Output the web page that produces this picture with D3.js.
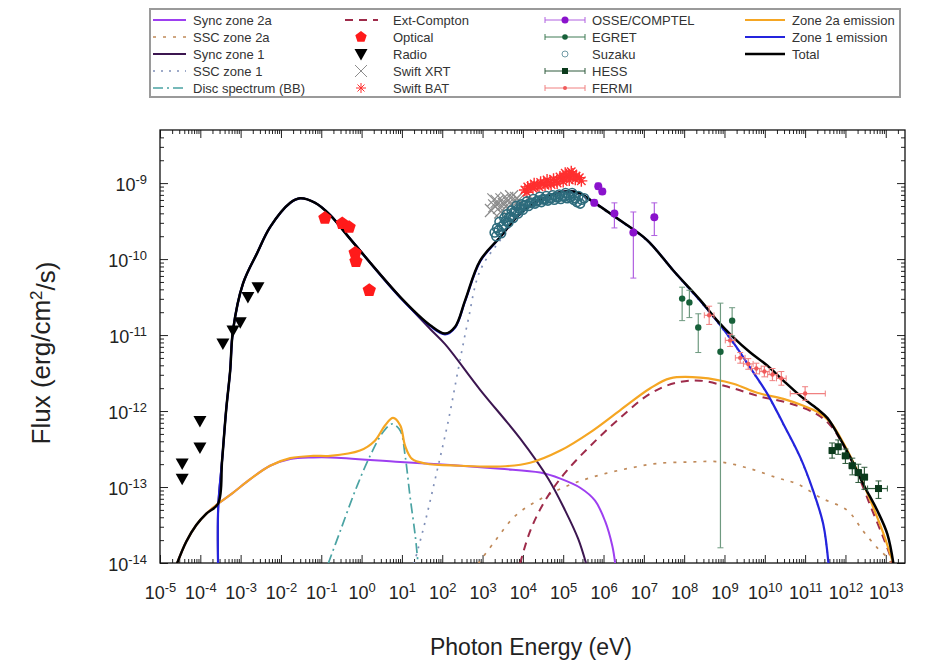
<!DOCTYPE html>
<html>
<head>
<meta charset="utf-8">
<script src="https://cdn.jsdelivr.net/npm/d3@7"></script>
<style>
  body { margin: 0; background: #fff; }
  text { font-family: "Liberation Sans", Arial, sans-serif; }
</style>
</head>
<body>
<svg id="chart" width="938" height="663"></svg>
<script>
// all values are log10(E / eV), log10(flux / erg cm^-2 s^-1)

const syncZone2a = [[-4.58,-14.01],[-4.35,-13.72],[-4.10,-13.50],[-3.85,-13.35],[-3.56,-13.22],[-3.20,-13.08],
  [-2.77,-12.90],[-2.27,-12.72],[-1.77,-12.63],[-1.20,-12.61],[-0.78,-12.61],[0.96,-12.67],[2.20,-12.71],
  [3.44,-12.76],[4.43,-12.81],[4.93,-12.89],[5.42,-13.01],[5.79,-13.18],[6.04,-13.45],[6.22,-13.78],[6.29,-14.01]];

const sscZone2a = [[2.89,-14.01],[3.31,-13.71],[3.81,-13.38],[4.43,-13.16],[5.17,-12.97],[5.92,-12.84],
  [6.66,-12.75],[7.33,-12.69],[8.15,-12.67],[8.90,-12.67],[9.64,-12.76],[10.31,-12.88],[10.81,-12.96],
  [11.38,-13.14],[12.05,-13.31],[12.44,-13.58],[12.79,-13.80],[13.04,-13.93],[13.14,-14.01]];

const syncZone1 = [[-3.56,-14.01],[-3.555,-13.25],[-3.46,-12.65],[-3.36,-11.99],[-3.26,-11.47],[-3.19,-10.94],
  [-2.94,-10.32],[-2.59,-9.92],[-2.27,-9.58],[-1.77,-9.26],[-1.53,-9.20],[-1.15,-9.26],[-0.78,-9.42],
  [-0.29,-9.73],[0.96,-10.50],[1.70,-10.92],[2.07,-11.12],[2.94,-11.72],[3.93,-12.36],[4.63,-12.89],
  [5.05,-13.31],[5.37,-13.68],[5.57,-14.01]];

const sscZone1 = [[1.30,-14.01],[1.58,-13.45],[1.87,-12.79],[2.15,-12.13],[2.39,-11.47],[2.64,-10.81],
  [2.94,-10.15],[3.44,-9.75],[3.93,-9.42],[4.43,-9.25],[4.93,-9.15],[5.35,-9.15],[5.67,-9.24],[6.41,-9.50],
  [7.08,-9.76],[7.73,-10.16],[8.40,-10.56],[8.82,-10.83],[9.22,-11.11],[9.64,-11.44],[10.06,-11.78],
  [10.46,-12.18],[10.88,-12.62],[11.20,-13.06],[11.45,-13.50],[11.58,-14.01]];

const discBB = [[-0.83,-14.01],[-0.53,-13.58],[-0.16,-13.05],[0.21,-12.59],[0.53,-12.28],[0.76,-12.17],
  [0.96,-12.26],[1.08,-12.59],[1.20,-13.12],[1.33,-13.64],[1.40,-14.01]];

const extCompton = [[3.93,-14.01],[4.18,-13.58],[4.55,-13.18],[5.05,-12.81],[5.67,-12.46],[6.41,-12.09],
  [7.16,-11.77],[7.78,-11.63],[8.40,-11.60],[9.14,-11.69],[9.89,-11.81],[10.63,-11.90],[11.25,-12.03],
  [11.63,-12.19],[12.00,-12.50],[12.32,-12.85],[12.62,-13.25],[12.92,-13.64],[13.11,-13.91],[13.16,-14.01]];

const zone2aEmission = [[-4.58,-14.01],[-4.35,-13.72],[-4.10,-13.50],[-3.85,-13.35],[-3.56,-13.22],[-3.20,-13.08],
  [-2.77,-12.90],[-2.27,-12.72],[-1.77,-12.62],[-1.20,-12.59],[-0.78,-12.59],[-0.04,-12.52],[0.33,-12.39],
  [0.58,-12.19],[0.78,-12.09],[0.96,-12.19],[1.08,-12.46],[1.25,-12.63],[1.58,-12.69],[2.44,-12.72],
  [3.44,-12.73],[4.18,-12.68],[4.93,-12.52],[5.67,-12.28],[6.41,-11.99],[7.16,-11.70],[7.65,-11.57],
  [8.40,-11.56],[9.22,-11.64],[9.81,-11.76],[10.46,-11.84],[10.96,-11.93],[11.30,-12.01],[11.63,-12.15],
  [11.95,-12.42],[12.30,-12.79],[12.62,-13.18],[12.92,-13.58],[13.11,-13.88],[13.19,-14.01]];

const zone1Emission = [[-3.56,-14.01],[-3.555,-13.25],[-3.46,-12.65],[-3.36,-11.99],[-3.26,-11.47],[-3.19,-10.94],
  [-2.94,-10.32],[-2.59,-9.92],[-2.27,-9.58],[-1.77,-9.26],[-1.53,-9.20],[-1.15,-9.26],[-0.78,-9.42],
  [-0.29,-9.73],[0.96,-10.51],[1.70,-10.88],[2.07,-10.99],[2.32,-10.90],[2.57,-10.55],[2.94,-10.03],
  [3.44,-9.71],[3.93,-9.40],[4.43,-9.22],[4.93,-9.12],[5.35,-9.12],[5.67,-9.22],[6.41,-9.49],[7.08,-9.75],
  [7.73,-10.15],[8.40,-10.55],[8.82,-10.82],[9.22,-11.10],[9.64,-11.43],[10.06,-11.77],[10.46,-12.17],
  [10.88,-12.61],[11.20,-13.05],[11.45,-13.49],[11.58,-14.01]];

const totalEmission = [[-4.58,-14.01],[-4.35,-13.72],[-4.10,-13.50],[-3.85,-13.35],[-3.56,-13.22],[-3.46,-12.65],
  [-3.36,-11.99],[-3.26,-11.47],[-3.19,-10.94],[-2.94,-10.32],[-2.59,-9.92],[-2.27,-9.58],[-1.77,-9.26],
  [-1.53,-9.20],[-1.15,-9.26],[-0.78,-9.42],[-0.29,-9.73],[0.96,-10.50],[1.70,-10.87],[2.07,-10.98],
  [2.32,-10.89],[2.57,-10.54],[2.94,-10.02],[3.44,-9.71],[3.93,-9.40],[4.43,-9.22],[4.93,-9.12],[5.35,-9.12],
  [5.67,-9.22],[6.41,-9.49],[7.08,-9.75],[7.73,-10.15],[8.40,-10.54],[8.82,-10.81],[9.22,-11.03],[9.64,-11.23],
  [10.06,-11.40],[10.46,-11.60],[10.88,-11.80],[11.30,-11.97],[11.55,-12.09],[11.80,-12.30],[12.12,-12.61],
  [12.44,-12.96],[12.79,-13.31],[13.04,-13.62],[13.19,-14.01]];

// observations
const radioPts = [[-4.45,-12.69],[-4.45,-12.89],[-4.01,-12.13],[-4.01,-12.48],[-3.44,-11.11],
  [-3.19,-10.94],[-3.01,-10.83],[-2.82,-10.50],[-2.57,-10.37]];
const opticalPts = [[-0.91,-9.46],[-0.48,-9.53],[-0.31,-9.58],[-0.16,-9.92],[-0.14,-10.03],[0.19,-10.41]];
const xrtPts = [[3.22,-9.36],[3.30,-9.30],[3.36,-9.24],[3.42,-9.32],[3.48,-9.22],[3.54,-9.28],[3.60,-9.20],
  [3.66,-9.26],[3.72,-9.18],[3.78,-9.24],[3.84,-9.20],[3.90,-9.22],[3.28,-9.22],[3.45,-9.38],[3.62,-9.33]];
const suzakuPts = [[3.30,-9.65],[3.36,-9.59],[3.42,-9.51],[3.48,-9.57],[3.54,-9.46],[3.60,-9.41],[3.66,-9.45],
  [3.72,-9.36],[3.78,-9.38],[3.84,-9.30],[3.90,-9.33],[3.96,-9.28],[4.02,-9.30],[4.10,-9.24],[4.18,-9.26],
  [4.26,-9.21],[4.34,-9.24],[4.42,-9.18],[4.50,-9.21],[4.58,-9.17],[4.66,-9.20],[4.74,-9.16],[4.82,-9.18],
  [4.90,-9.15],[4.98,-9.17],[5.06,-9.13],[5.14,-9.16],[5.22,-9.13],[5.30,-9.20],[5.38,-9.17],[5.46,-9.22],[5.52,-9.20],
  [3.34,-9.70],[3.40,-9.62],[3.46,-9.66],[3.52,-9.55],[3.58,-9.50],[3.64,-9.52],[3.70,-9.44],[3.76,-9.46],
  [3.82,-9.38],[3.88,-9.40],[3.94,-9.34],[4.00,-9.35],[4.06,-9.29],[4.14,-9.30],[4.22,-9.26],[4.30,-9.27],
  [4.38,-9.23],[4.46,-9.25],[4.54,-9.22],[4.62,-9.23],[4.70,-9.20],[4.78,-9.22],[4.86,-9.19],[4.94,-9.21],
  [5.02,-9.18],[5.10,-9.20],[5.18,-9.19],[5.26,-9.22],[5.34,-9.25],[5.42,-9.27]];
const batPts = [[4.05,-9.09],[4.12,-9.05],[4.20,-9.04],[4.28,-9.01],[4.36,-9.03],[4.44,-8.99],[4.52,-9.00],
  [4.60,-8.96],[4.68,-8.99],[4.76,-8.95],[4.84,-8.97],[4.92,-8.92],[5.00,-8.93],[5.08,-8.89],[5.16,-8.91],
  [5.24,-8.88],[5.32,-8.91],[5.40,-8.93],[4.10,-9.12],[4.25,-9.07],[4.40,-9.05],[4.55,-9.03],[4.70,-9.02],
  [4.85,-9.00],[5.00,-8.98],[5.15,-8.96],[5.30,-8.95],[5.45,-8.97],[5.20,-8.85],[5.05,-8.87]];
// [logE, logF, logF low, logF high]
const osseComptel = [[5.77,-9.26,-9.30,-9.22],[5.87,-9.04,-9.08,-9.00],[5.97,-9.11,-9.15,-9.07],
  [6.27,-9.40,-9.59,-9.26],[6.74,-9.65,-10.25,-9.38],[7.26,-9.45,-9.69,-9.26]];
const egret = [[7.95,-10.52,-10.81,-10.37],[8.13,-10.57,-10.77,-10.41],[8.35,-10.90,-11.23,-10.72],
  [8.90,-11.22,-13.80,-10.58],[9.19,-10.81,-11.01,-10.64]];
// [logE, logF, logF low, logF high, logE low, logE high]
const hess = [[11.67,-12.52,-12.62,-12.42,11.60,11.74],[11.82,-12.47,-12.57,-12.38,11.75,11.89],
  [12.00,-12.59,-12.69,-12.50,11.92,12.08],[12.17,-12.72,-12.84,-12.62,12.09,12.25],
  [12.32,-12.81,-12.94,-12.70,12.24,12.40],[12.47,-12.87,-13.03,-12.74,12.39,12.55],
  [12.82,-13.02,-13.15,-12.92,12.55,13.04]];
const fermi = [[8.62,-10.74,-10.86,-10.62,8.50,8.74],[9.14,-11.07,-11.15,-10.99,9.02,9.26],
  [9.39,-11.30,-11.37,-11.23,9.27,9.51],[9.59,-11.38,-11.45,-11.31,9.47,9.71],
  [9.79,-11.44,-11.51,-11.37,9.67,9.91],[9.99,-11.48,-11.55,-11.41,9.87,10.11],
  [10.19,-11.52,-11.60,-11.44,10.07,10.31],[10.41,-11.57,-11.66,-11.48,10.29,10.53],
  [11.00,-11.77,-11.86,-11.68,10.63,11.50]];

const xPowers = d3.range(-5, 14);
const yPowers = d3.range(-14, -8);

const svg = d3.select('#chart');
const L = 160, R = 905, T = 130, B = 563;

const x = d3.scaleLog().domain([1e-5, 3e13]).range([L, R]);
const y = d3.scaleLog().domain([1e-14, 5e-9]).range([B, T]);
const px = v => x(Math.pow(10, v));
const py = v => y(Math.pow(10, v));

svg.append('defs').append('clipPath').attr('id', 'plotclip')
  .append('rect').attr('x', L).attr('y', T).attr('width', R - L).attr('height', B - T);

// ---- axes ----
const majorX = xPowers.map(p => Math.pow(10, p));
const minorX = [];
xPowers.forEach(p => { for (let m = 2; m < 10; m++) { const v = m * Math.pow(10, p); if (v < 3e13) minorX.push(v); } });
const majorY = yPowers.map(p => Math.pow(10, p));
const minorY = [];
yPowers.forEach(p => { for (let m = 2; m < 10; m++) { const v = m * Math.pow(10, p); if (v < 5e-9) minorY.push(v); } });

function supLabel(sel, size) {
  sel.selectAll('.tick text').each(function (d) {
    const p = Math.round(Math.log10(d));
    const t = d3.select(this);
    t.text(null).attr('font-size', size + 'px').attr('fill', '#222');
    t.append('tspan').text('10');
    t.append('tspan').attr('dy', '-0.55em').attr('font-size', (size * 0.72) + 'px').text(p);
  });
}

const gx = svg.append('g').attr('transform', `translate(0,${B})`)
  .call(d3.axisBottom(x).tickValues(majorX).tickSizeInner(-8).tickSizeOuter(0).tickPadding(23));
supLabel(gx, 18);
svg.append('g').attr('transform', `translate(0,${B})`)
  .call(d3.axisBottom(x).tickValues(minorX).tickSizeInner(-4).tickSizeOuter(0).tickFormat(''));
svg.append('g').attr('transform', `translate(0,${T})`)
  .call(d3.axisTop(x).tickValues(majorX).tickSizeInner(-8).tickSizeOuter(0).tickFormat(''));
svg.append('g').attr('transform', `translate(0,${T})`)
  .call(d3.axisTop(x).tickValues(minorX).tickSizeInner(-4).tickSizeOuter(0).tickFormat(''));

const gy = svg.append('g').attr('transform', `translate(${L},0)`)
  .call(d3.axisLeft(y).tickValues(majorY).tickSizeInner(-8).tickSizeOuter(0).tickPadding(13));
supLabel(gy, 18);
gy.selectAll('.tick text').attr('dy', '0.42em');
svg.append('g').attr('transform', `translate(${L},0)`)
  .call(d3.axisLeft(y).tickValues(minorY).tickSizeInner(-4).tickSizeOuter(0).tickFormat(''));
svg.append('g').attr('transform', `translate(${R},0)`)
  .call(d3.axisRight(y).tickValues(majorY).tickSizeInner(-8).tickSizeOuter(0).tickFormat(''));
svg.append('g').attr('transform', `translate(${R},0)`)
  .call(d3.axisRight(y).tickValues(minorY).tickSizeInner(-4).tickSizeOuter(0).tickFormat(''));

svg.selectAll('.domain').remove();
svg.selectAll('.tick line').attr('stroke', '#222');

svg.append('rect').attr('x', L).attr('y', T).attr('width', R - L).attr('height', B - T)
  .attr('fill', 'none').attr('stroke', '#111').attr('stroke-width', 1.3);

// axis titles
svg.append('text').attr('x', 531).attr('y', 655).attr('text-anchor', 'middle')
  .attr('font-size', '23px').attr('fill', '#222').text('Photon Energy (eV)');
const yt = svg.append('text').attr('transform', 'translate(50,353) rotate(-90)')
  .attr('text-anchor', 'middle').attr('font-size', '26px').attr('fill', '#222');
yt.append('tspan').text('Flux (erg/cm');
yt.append('tspan').attr('dy', '-0.5em').attr('font-size', '17px').text('2');
yt.append('tspan').attr('dy', '0.5em').text('/s)');

// ---- styles ----
const S = {
  sync2a: { color: '#9d3ff0', width: 2, dash: null },
  ssc2a:  { color: '#c08a5a', width: 1.7, dash: '3,7' },
  sync1:  { color: '#3c1650', width: 2, dash: null },
  ssc1:   { color: '#7f8fb8', width: 1.7, dash: '2,6' },
  disc:   { color: '#4aa3a3', width: 1.7, dash: '10,4,2,4' },
  ec:     { color: '#9e2b4a', width: 2, dash: '8,6' },
  zone2a: { color: '#f5a623', width: 2.2, dash: null },
  zone1:  { color: '#2424dd', width: 2.2, dash: null },
  total:  { color: '#000000', width: 2.5, dash: null }
};

const line = d3.line().x(d => px(d[0])).y(d => py(d[1])).curve(d3.curveCatmullRom.alpha(0.5));
const plot = svg.append('g').attr('clip-path', 'url(#plotclip)');

function drawCurve(pts, st) {
  plot.append('path').attr('d', line(pts)).attr('fill', 'none')
    .attr('stroke', st.color).attr('stroke-width', st.width)
    .attr('stroke-dasharray', st.dash).attr('stroke-linejoin', 'round');
}

// marker shapes
function pentagon(r) {
  return d3.range(5).map(k => {
    const a = -Math.PI / 2 + k * 2 * Math.PI / 5;
    return (k ? 'L' : 'M') + (r * Math.cos(a)).toFixed(2) + ',' + (r * Math.sin(a)).toFixed(2);
  }).join('') + 'Z';
}
const triDown = 'M-6.5,-5L6.5,-5L0,6.5Z';
const crossX = r => `M${-r},${-r}L${r},${r}M${-r},${r}L${r},${-r}`;
const asterisk = r => `M${-r},0L${r},0M0,${-r}L0,${r}M${-r * 0.7},${-r * 0.7}L${r * 0.7},${r * 0.7}M${-r * 0.7},${r * 0.7}L${r * 0.7},${-r * 0.7}`;

drawCurve(syncZone2a, S.sync2a);
drawCurve(sscZone2a, S.ssc2a);
drawCurve(syncZone1, S.sync1);
drawCurve(sscZone1, S.ssc1);
drawCurve(discBB, S.disc);
drawCurve(extCompton, S.ec);

// data points
const pts = svg.append('g');
pts.selectAll('.opt').data(opticalPts).enter().append('path')
  .attr('d', pentagon(7)).attr('fill', '#ff1a1a')
  .attr('transform', d => `translate(${px(d[0])},${py(d[1])})`);
pts.selectAll('.rad').data(radioPts).enter().append('path')
  .attr('d', triDown).attr('fill', '#000')
  .attr('transform', d => `translate(${px(d[0])},${py(d[1])})`);
pts.selectAll('.xrt').data(xrtPts).enter().append('path')
  .attr('d', crossX(6.5)).attr('stroke', '#8c8c8c').attr('stroke-width', 1.2).attr('fill', 'none')
  .attr('transform', d => `translate(${px(d[0])},${py(d[1])})`);
pts.selectAll('.bat').data(batPts).enter().append('path')
  .attr('d', asterisk(6)).attr('stroke', '#ff2f2f').attr('stroke-width', 1.4).attr('fill', 'none')
  .attr('transform', d => `translate(${px(d[0])},${py(d[1])})`);
pts.selectAll('.suz').data(suzakuPts).enter().append('circle')
  .attr('cx', d => px(d[0])).attr('cy', d => py(d[1])).attr('r', 4.5)
  .attr('fill', 'none').attr('stroke', '#2d6b7c').attr('stroke-width', 1.6);

function errorBars(data, color, barColor, markerFn) {
  const g = svg.append('g');
  data.forEach(d => {
    const cx = px(d[0]), cy = py(d[1]);
    const y0 = py(d[2]), y1 = py(d[3]);
    g.append('line').attr('x1', cx).attr('x2', cx).attr('y1', y0).attr('y2', y1)
      .attr('stroke', barColor).attr('stroke-width', 1.2);
    g.append('line').attr('x1', cx - 3).attr('x2', cx + 3).attr('y1', y0).attr('y2', y0).attr('stroke', barColor);
    g.append('line').attr('x1', cx - 3).attr('x2', cx + 3).attr('y1', y1).attr('y2', y1).attr('stroke', barColor);
    if (d.length > 4) {
      const x0 = px(d[4]), x1 = px(d[5]);
      g.append('line').attr('x1', x0).attr('x2', x1).attr('y1', cy).attr('y2', cy)
        .attr('stroke', barColor).attr('stroke-width', 1.2);
      g.append('line').attr('x1', x0).attr('x2', x0).attr('y1', cy - 3).attr('y2', cy + 3).attr('stroke', barColor);
      g.append('line').attr('x1', x1).attr('x2', x1).attr('y1', cy - 3).attr('y2', cy + 3).attr('stroke', barColor);
    }
    markerFn(g, cx, cy, color);
  });
}
const dot = r => (g, cx, cy, c) => g.append('circle').attr('cx', cx).attr('cy', cy).attr('r', r).attr('fill', c);
const square = s => (g, cx, cy, c) => g.append('rect').attr('x', cx - s / 2).attr('y', cy - s / 2)
  .attr('width', s).attr('height', s).attr('fill', c);

errorBars(osseComptel, '#8a12cc', '#b060e0', dot(4));
errorBars(egret, '#17613a', '#6f9a80', dot(3.2));
errorBars(hess, '#0b3a1c', '#2f5a3c', square(7));
errorBars(fermi, '#f05a5a', '#f08080', dot(2.2));

drawCurve(zone2aEmission, S.zone2a);
drawCurve(zone1Emission, S.zone1);
drawCurve(totalEmission, S.total);

// ---- legend ----
const lg = svg.append('g');
lg.append('rect').attr('x', 150).attr('y', 9).attr('width', 750).attr('height', 88)
  .attr('fill', '#fff').attr('stroke', '#9a9a9a').attr('stroke-width', 2);
const rowY = [20, 37, 54, 71, 88];

function legendText(tx, ty, label) {
  lg.append('text').attr('x', tx).attr('y', ty + 4.5).attr('font-size', '13px').attr('fill', '#333').text(label);
}
function legendLine(x0, x1, ty, st, label, tx) {
  lg.append('line').attr('x1', x0).attr('x2', x1).attr('y1', ty).attr('y2', ty)
    .attr('stroke', st.color).attr('stroke-width', st.width).attr('stroke-dasharray', st.dash);
  legendText(tx, ty, label);
}

const col1 = [['Sync zone 2a', S.sync2a], ['SSC zone 2a', S.ssc2a], ['Sync zone 1', S.sync1],
  ['SSC zone 1', S.ssc1], ['Disc spectrum (BB)', S.disc]];
col1.forEach((c, i) => legendLine(153, 186, rowY[i], c[1], c[0], 193));

legendLine(345, 378, rowY[0], S.ec, 'Ext-Compton', 393);
lg.append('path').attr('d', pentagon(6)).attr('fill', '#ff1a1a').attr('transform', `translate(361,${rowY[1]})`);
legendText(393, rowY[1], 'Optical');
lg.append('path').attr('d', triDown).attr('fill', '#000').attr('transform', `translate(361,${rowY[2]})`);
legendText(393, rowY[2], 'Radio');
lg.append('path').attr('d', crossX(6)).attr('stroke', '#8c8c8c').attr('fill', 'none').attr('transform', `translate(361,${rowY[3]})`);
legendText(393, rowY[3], 'Swift XRT');
lg.append('path').attr('d', asterisk(5)).attr('stroke', '#ff2f2f').attr('fill', 'none').attr('transform', `translate(361,${rowY[4]})`);
legendText(393, rowY[4], 'Swift BAT');

function legendErr(ty, color, barColor, markerFn, label) {
  const g = lg.append('g');
  g.append('line').attr('x1', 545).attr('x2', 585).attr('y1', ty).attr('y2', ty).attr('stroke', barColor);
  g.append('line').attr('x1', 545).attr('x2', 545).attr('y1', ty - 3).attr('y2', ty + 3).attr('stroke', barColor);
  g.append('line').attr('x1', 585).attr('x2', 585).attr('y1', ty - 3).attr('y2', ty + 3).attr('stroke', barColor);
  markerFn(g, 565, ty, color);
  legendText(592, ty, label);
}
legendErr(rowY[0], '#8a12cc', '#b060e0', dot(3.5), 'OSSE/COMPTEL');
legendErr(rowY[1], '#17613a', '#3f7a55', dot(2.8), 'EGRET');
lg.append('circle').attr('cx', 565).attr('cy', rowY[2]).attr('r', 3).attr('fill', 'none').attr('stroke', '#6f9aa5');
legendText(592, rowY[2], 'Suzaku');
legendErr(rowY[3], '#0b3a1c', '#2f5a3c', square(6), 'HESS');
legendErr(rowY[4], '#f05a5a', '#f08080', dot(2), 'FERMI');

legendLine(745, 785, rowY[0], S.zone2a, 'Zone 2a emission', 792);
legendLine(745, 785, rowY[1], S.zone1, 'Zone 1 emission', 792);
legendLine(745, 785, rowY[2], S.total, 'Total', 792);
</script>
</body>
</html>
